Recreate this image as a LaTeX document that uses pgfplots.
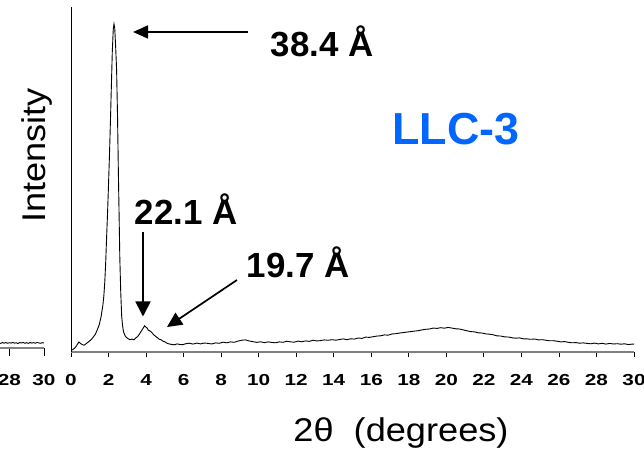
\documentclass[border=0pt]{standalone}
\usepackage{fontspec}
\setmainfont{Liberation Sans}
\usepackage{pgfplots}
\pgfplotsset{compat=1.18}
\usetikzlibrary{arrows.meta}
\definecolor{llcblue}{HTML}{0066FF}

% peak profile, 2theta vs intensity (arbitrary units)
\pgfplotstableread{
x y
0.05 2
0.15 3.2
0.25 5
0.35 8
0.42 10
0.5 8.6
0.6 7.4
0.7 6.8
0.8 8.2
0.9 9.6
1.0 11.2
1.1 12.8
1.2 15.3
1.3 17.8
1.4 22.2
1.5 27
1.6 35
1.7 47
1.75 56
1.8 70
1.85 90
1.9 116
1.95 140
2.0 168
2.05 197
2.1 230
2.15 265
2.2 300
2.25 322
2.29 328
2.33 324
2.38 305
2.43 282
2.48 235
2.52 185
2.56 140
2.6 95
2.65 60
2.7 36
2.75 26
2.8 20
2.88 16.4
2.95 14.6
3.05 13.2
3.15 12.3
3.25 13
3.35 12.2
3.45 14
3.55 15.4
3.65 18
3.75 21
3.85 24
3.92 26.2
3.98 25
4.05 24.2
4.12 21.8
4.2 21.2
4.3 19.6
4.4 17.4
4.5 15.8
4.6 14.3
4.7 12.8
4.8 12.2
4.9 10.8
5.0 10.2
5.1 8.9
5.2 8.2
5.35 7.6
5.5 7.2
5.65 8.1
5.8 7.5
5.95 7.3
6.1 8.2
6.3 8.8
6.5 7.9
6.7 8.9
6.9 8.1
7.1 9.0
7.3 8.6
7.5 8.0
7.7 9.1
7.9 8.7
8.1 9.8
8.3 9.2
8.5 10.1
8.7 9.7
8.9 10.9
9.1 11.8
9.3 12.1
9.5 11.0
9.7 10.3
9.9 9.6
10.1 10.2
10.3 9.3
10.5 10.1
10.7 9.6
10.9 9.2
11.1 10.1
11.3 9.7
11.5 10.8
11.7 10.1
11.9 9.8
12.1 10.9
12.3 10.2
12.5 11.1
12.7 10.6
12.9 11.8
13.1 11.0
13.3 11.4
13.5 12.1
13.7 11.7
13.9 12.3
14.1 11.8
14.3 12.4
14.5 13.1
14.7 12.3
14.9 13.2
15.1 12.9
15.3 14.0
15.5 13.6
15.7 14.9
15.9 14.6
16.1 15.3
16.3 15.9
16.5 16.2
16.7 17.1
16.9 16.8
17.1 18.0
17.3 18.3
17.5 18.9
17.7 19.4
17.9 19.9
18.1 20.4
18.3 20.9
18.5 21.3
18.7 22.1
18.9 22.7
19.1 23.0
19.3 23.9
19.5 23.6
19.7 24.3
19.9 23.8
20.1 24.6
20.3 23.9
20.5 23.2
20.7 23.0
20.9 22.1
21.1 21.2
21.3 20.4
21.5 20.1
21.7 19.2
21.9 19.0
22.1 18.1
22.3 17.8
22.5 17.2
22.7 16.1
22.9 16.0
23.1 15.1
23.3 15.0
23.5 14.2
23.7 13.8
23.9 14.1
24.1 13.2
24.3 13.1
24.5 12.7
24.7 13.0
24.9 12.1
25.1 12.3
25.3 11.8
25.5 11.2
25.7 11.3
25.9 10.8
26.1 10.1
26.3 10.4
26.5 9.7
26.7 9.2
26.9 9.4
27.1 8.8
27.3 9.1
27.5 8.6
27.7 8.2
27.9 8.9
28.1 8.1
28.3 8.7
28.5 7.9
28.7 8.6
28.9 8.0
29.1 8.3
29.3 7.8
29.5 8.2
29.7 7.4
29.9 7.9
30.0 7.8
}\llcdata

% tail of the neighbouring panel
\pgfplotstableread{
x y
27.40 5.2
27.50 4.6
27.60 5.4
27.70 4.8
27.80 5.5
27.90 4.7
28.00 5.3
28.10 4.9
28.20 5.6
28.30 4.8
28.40 5.2
28.50 4.5
28.60 5.4
28.70 5.0
28.80 5.6
28.90 4.7
29.00 5.3
29.10 4.6
29.20 5.5
29.30 4.9
29.40 5.4
29.50 4.8
29.60 5.6
29.70 5.1
29.80 4.7
29.90 5.3
30.00 5.0
}\prevdata

\begin{document}
\begin{tikzpicture}[x=1bp,y=1bp]
\useasboundingbox (0,0) rectangle (644,450);

\begin{axis}[
    at={(0bp,102bp)}, anchor=south west,
    scale only axis, width=44bp, height=100bp,
    xmin=27.46, xmax=30, ymin=0, ymax=100,
    axis x line*=bottom, hide y axis,
    x axis line style={gray, line width=2bp},
    xtick={28,30}, ytick=\empty,
    tick align=outside, major tick length=8bp,
    tick style={black, line width=0.8bp},
    /pgf/number format/assume math mode=true,
    xticklabel={\scalebox{1.3}[1]{\pgfmathprintnumber{\tick}}},
    xticklabel style={font=\fontsize{16}{16}\selectfont\bfseries, anchor=base, yshift=-29.5bp},
]
\addplot[black, line width=0.9bp] table {\prevdata};
\end{axis}

\begin{axis}[
    at={(71bp,98bp)}, anchor=south west,
    scale only axis, width=563bp, height=345bp,
    xmin=0, xmax=30, ymin=0, ymax=345,
    axis x line*=bottom, axis y line*=left,
    x axis line style={gray, line width=2bp},
    y axis line style={black, line width=0.9bp},
    xtick={0,2,...,30}, ytick=\empty,
    tick align=outside, major tick length=5bp,
    tick style={black, line width=0.8bp},
    /pgf/number format/assume math mode=true,
    xticklabel={\scalebox{1.3}[1]{\pgfmathprintnumber{\tick}}},
    xticklabel style={font=\fontsize{16}{16}\selectfont\bfseries, anchor=base, yshift=-28.5bp},
]
\addplot[black, line width=0.9bp] table {\llcdata};
\end{axis}

% labels
\node[rotate=90, anchor=base] at (45,294.5) {\fontsize{33}{33}\selectfont\scalebox{1.1}[1]{Intensity}};
\node[anchor=base] at (401,8) {\fontsize{33}{33}\selectfont\scalebox{1.1}[1]{2θ\ \ (degrees)}};

% annotations
\node[anchor=base, font=\fontsize{35}{35}\selectfont\bfseries] at (322,393) {38.4 Å};
\node[anchor=base, font=\fontsize{35}{35}\selectfont\bfseries] at (186,225) {22.1 Å};
\node[anchor=base, font=\fontsize{35}{35}\selectfont\bfseries] at (298,172) {19.7 Å};
\node[anchor=base, font=\fontsize{45}{45}\selectfont\bfseries, text=llcblue] at (456,305) {LLC-3};

\draw[line width=1.7bp, -{Triangle[length=15bp,width=13bp]}] (248,418) -- (133,418);
\draw[line width=1.7bp, -{Triangle[length=15bp,width=15bp]}] (143,218) -- (143,133.5);
\draw[line width=1.7bp, -{Triangle[length=15bp,width=14bp]}] (237,170) -- (167,123);
\end{tikzpicture}
\end{document}
